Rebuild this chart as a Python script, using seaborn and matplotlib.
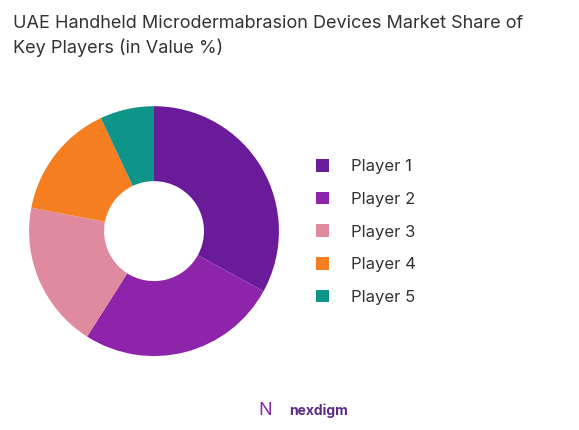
import matplotlib
matplotlib.use("Agg")
import matplotlib.pyplot as plt
import seaborn as sns
from matplotlib.patches import Patch

sns.set_style("white")
plt.rcParams['font.family'] = ['Inter', 'DejaVu Sans']

players = ["Player 1", "Player 2", "Player 3", "Player 4", "Player 5"]
shares = [33, 26, 19, 15, 7]
colors = ["#6A1B9A", "#8E24AA", "#E08AA0", "#F57F20", "#0E9488"]

fig = plt.figure(figsize=(5.79, 4.30), dpi=100)
ax = fig.add_axes([0.050, 0.172, 0.432, 0.581])
ax.pie(shares, colors=colors, startangle=90, counterclock=False,
       wedgeprops=dict(width=0.6, edgecolor="none"))
ax.set_xlim(-1, 1)
ax.set_ylim(-1, 1)
ax.set_aspect("equal")

fig.text(0.022, 0.965, "UAE Handheld Microdermabrasion Devices Market Share of\nKey Players (in Value %)",
         ha="left", va="top", fontsize=13, color="#333333", linespacing=1.45)

handles = [Patch(facecolor=c, edgecolor="none") for c in colors]
fig.legend(handles, players, loc="upper left", bbox_to_anchor=(0.52, 0.665),
           frameon=False, fontsize=12, labelspacing=1.05, handlelength=0.8,
           handleheight=0.8, handletextpad=1.3, labelcolor="#333333")

fig.text(0.5, 0.045, "nexdigm", ha="left", va="center", fontsize=10,
         color="#5B2A86", fontweight="bold")
fig.text(0.447, 0.045, "N", ha="left", va="center", fontsize=13, color="#8E24AA")

fig.savefig("out.png", dpi=100)
